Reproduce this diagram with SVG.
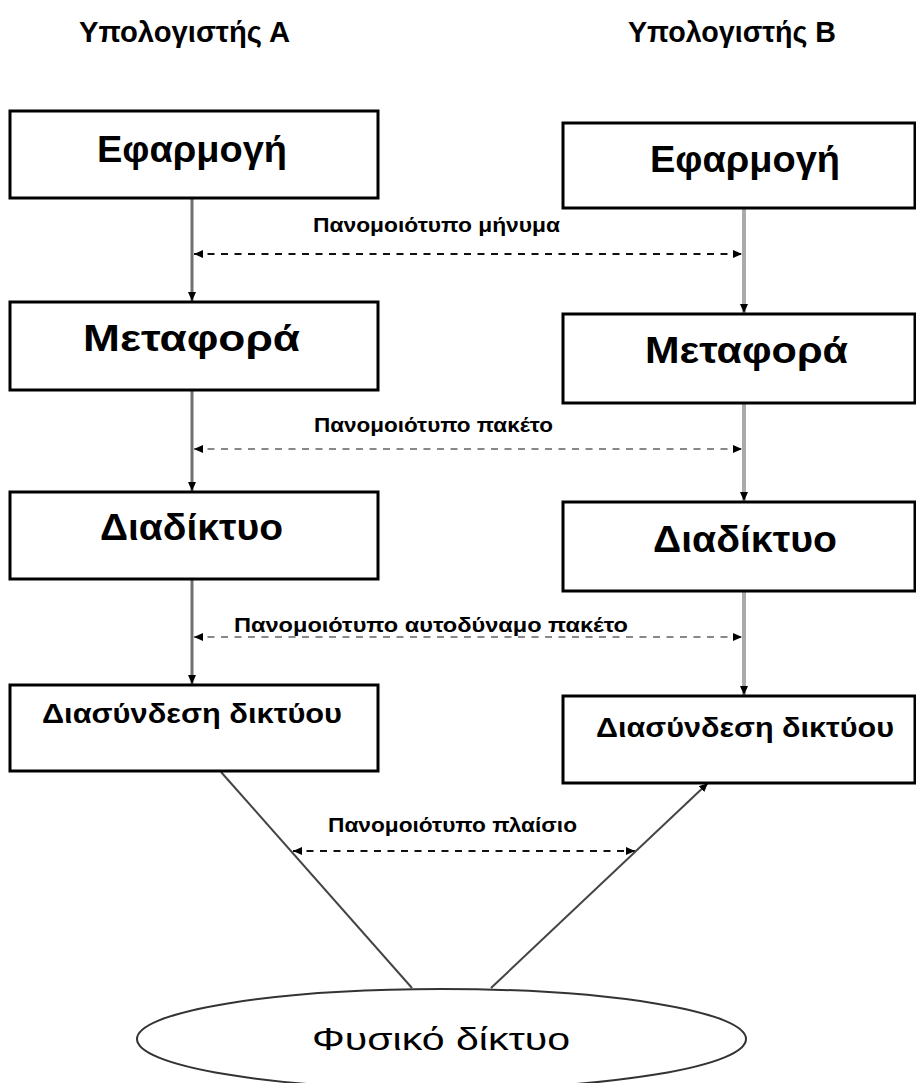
<svg xmlns="http://www.w3.org/2000/svg" width="916" height="1083" viewBox="0 0 916 1083">
<style>
.box{fill:#fff;stroke:#000;stroke-width:3}
.t{font-family:"Liberation Sans",Arial,sans-serif;font-weight:bold;fill:#000}
.big{font-size:36px}
.mid{font-size:27px}
.ttl{font-size:30px}
.lbl{font-size:20px}
.vl{stroke:#707070;stroke-width:3;fill:none}
.vr{stroke:#aaaaaa;stroke-width:4;fill:none}
.dash{stroke:#111;stroke-width:2;stroke-dasharray:7 6.5;fill:none}
.dashg{stroke:#888;stroke-width:2;stroke-dasharray:7 6.5;fill:none}
.diag{stroke:#444;stroke-width:2;fill:none}
</style>
<defs>
<marker id="ah" markerUnits="userSpaceOnUse" markerWidth="10" markerHeight="10" refX="9" refY="5" orient="auto-start-reverse" viewBox="0 0 10 10">
<path d="M0,1 L9,5 L0,9 z" fill="#000"/>
</marker>
</defs>
<rect width="916" height="1083" fill="#fff"/>
<g id="titles">
<text class="t ttl" x="79" y="42" textLength="211" lengthAdjust="spacingAndGlyphs">Υπολογιστής Α</text>
<text class="t ttl" x="628" y="42" textLength="208" lengthAdjust="spacingAndGlyphs">Υπολογιστής Β</text>
</g>
<g id="connectors">
<line class="vl" x1="192" y1="199" x2="192" y2="301" marker-end="url(#ah)"/>
<line class="vl" x1="192" y1="391" x2="192" y2="491" marker-end="url(#ah)"/>
<line class="vl" x1="192" y1="580" x2="192" y2="684" marker-end="url(#ah)"/>
<line class="vr" x1="744" y1="209" x2="744" y2="313" marker-end="url(#ah)"/>
<line class="vr" x1="744" y1="404" x2="744" y2="501" marker-end="url(#ah)"/>
<line class="vr" x1="744" y1="592" x2="744" y2="695" marker-end="url(#ah)"/>
<line class="dash" x1="194" y1="254" x2="742" y2="254" marker-start="url(#ah)" marker-end="url(#ah)"/>
<line class="dashg" x1="194" y1="449" x2="742" y2="449" marker-start="url(#ah)" marker-end="url(#ah)"/>
<line class="dashg" x1="194" y1="637" x2="742" y2="637" marker-start="url(#ah)" marker-end="url(#ah)"/>
<line class="dash" x1="293" y1="851" x2="635" y2="851" marker-start="url(#ah)" marker-end="url(#ah)"/>
<line class="diag" x1="221" y1="772" x2="412" y2="988"/>
<line class="diag" x1="491" y1="988" x2="708" y2="783" marker-end="url(#ah)"/>
<text class="t lbl" x="313" y="232" textLength="247" lengthAdjust="spacingAndGlyphs">Πανομοιότυπο μήνυμα</text>
<text class="t lbl" x="314" y="432" textLength="239" lengthAdjust="spacingAndGlyphs">Πανομοιότυπο πακέτο</text>
<text class="t lbl" x="234" y="632" textLength="394" lengthAdjust="spacingAndGlyphs">Πανομοιότυπο  αυτοδύναμο  πακέτο</text>
<text class="t lbl" x="328" y="832" textLength="249" lengthAdjust="spacingAndGlyphs">Πανομοιότυπο πλαίσιο</text>
</g>
<g id="a-app"><rect class="box" x="10" y="111" width="368" height="87"/><text class="t big" x="97" y="162" textLength="190" lengthAdjust="spacingAndGlyphs">Εφαρμογή</text></g>
<g id="a-transport"><rect class="box" x="10" y="302" width="368" height="88"/><text class="t big" x="83" y="351" textLength="217" lengthAdjust="spacingAndGlyphs">Μεταφορά</text></g>
<g id="a-internet"><rect class="box" x="10" y="492" width="368" height="87"/><text class="t big" x="100" y="540" textLength="183" lengthAdjust="spacingAndGlyphs">Διαδίκτυο</text></g>
<g id="a-link"><rect class="box" x="10" y="685" width="368" height="86"/><text class="t mid" x="42" y="723" textLength="300" lengthAdjust="spacingAndGlyphs">Διασύνδεση δικτύου</text></g>
<g id="b-app"><rect class="box" x="563" y="123" width="352" height="85"/><text class="t big" x="650" y="172" textLength="190" lengthAdjust="spacingAndGlyphs">Εφαρμογή</text></g>
<g id="b-transport"><rect class="box" x="563" y="314" width="352" height="89"/><text class="t big" x="645" y="363" textLength="203" lengthAdjust="spacingAndGlyphs">Μεταφορά</text></g>
<g id="b-internet"><rect class="box" x="563" y="502" width="352" height="89"/><text class="t big" x="653" y="552" textLength="184" lengthAdjust="spacingAndGlyphs">Διαδίκτυο</text></g>
<g id="b-link"><rect class="box" x="563" y="696" width="352" height="87"/><text class="t mid" x="596" y="737" textLength="298" lengthAdjust="spacingAndGlyphs">Διασύνδεση δικτύου</text></g>
<g id="physical">
<ellipse cx="441.5" cy="1039" rx="304.5" ry="50" fill="#fff" stroke="#333" stroke-width="2"/>
<text x="312" y="1050" font-family="'Liberation Sans',Arial,sans-serif" font-size="32" fill="#000" textLength="258" lengthAdjust="spacingAndGlyphs">Φυσικό δίκτυο</text>
</g>
</svg>
